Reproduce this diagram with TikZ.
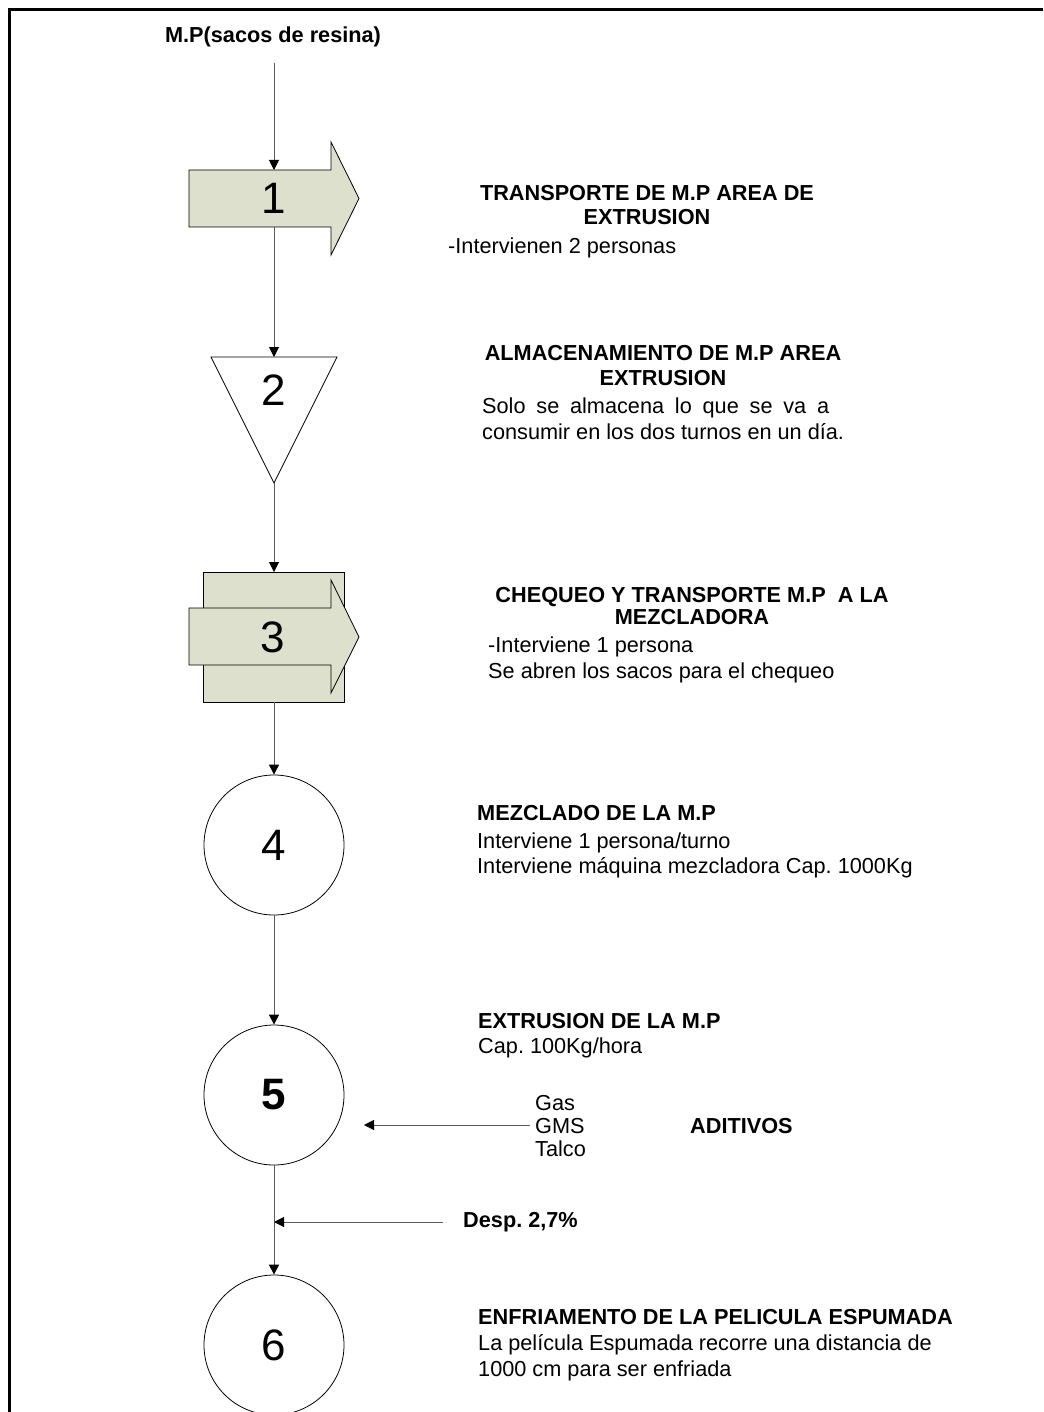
\documentclass[tikz,border=0pt]{standalone}
\usepackage{fontspec}
\setmainfont{Liberation Sans}
\usetikzlibrary{arrows.meta}
\definecolor{opfill}{RGB}{221,224,204}
\definecolor{flowgray}{RGB}{90,90,90}
\frenchspacing

\begin{document}
\begin{tikzpicture}[x=1pt, y=-1pt,
    numtxt/.style = {inner sep=0pt, font=\fontsize{44}{50}\selectfont},
    headtxt/.style = {inner sep=0pt, anchor=base, font=\fontsize{21.7}{25}\selectfont\bfseries},
    bodytxt/.style = {inner sep=0pt, anchor=base west, font=\fontsize{21.7}{25}\selectfont},
    opcircle/.style = {circle, draw, line width=0.8pt, minimum size=140pt, inner sep=0pt, font=\fontsize{44}{50}\selectfont},
    opshape/.style = {draw=black, fill=opfill, line width=0.8pt},
    flow/.style = {draw=flowgray, line width=1pt, -{Triangle[width=10pt, length=10pt, color=black]}}
]
\useasboundingbox (0,0) rectangle (1043,1412);

% page frame
\draw[line width=2.5pt] (1043,9.5) -- (9.5,9.5) -- (9.5,1412);

% shapes of the chart
\draw[opshape] (189,170) -- (331,170) -- (331,142) -- (359,198.5) -- (331,255) -- (331,227) -- (189,227) -- cycle;
\draw[line width=0.8pt] (211,357) -- (337,357) -- (274,483) -- cycle;
\draw[opshape] (203,572) rectangle (344,702);
\draw[opshape] (189,608) -- (331,608) -- (331,580) -- (359,637) -- (331,693) -- (331,665) -- (189,665) -- cycle;

\node (n1) [numtxt] at (274,198) {1};
\node (n2) [numtxt] at (274,390) {2};
\node (n3) [numtxt] at (273,637) {3};
\node (op4) [opcircle] at (274,845) {4};
\node (op5) [opcircle, font=\fontsize{44}{50}\selectfont\bfseries] at (274,1095) {5};
\node (op6) [opcircle] at (274,1345) {6};

\coordinate (src) at (274,63);
\coordinate (op1top) at (274,170);
\coordinate (op1bot) at (274,227);
\coordinate (op2top) at (274,357);
\coordinate (op2bot) at (274,483);
\coordinate (op3top) at (274,572);
\coordinate (op3bot) at (274,702);
\coordinate (addtail) at (530,1125);
\coordinate (addtip) at (364,1125);
\coordinate (desptail) at (443,1222);
\coordinate (despjoin) at (274,1222);

% texts
\node (srclbl) [headtxt] at (273,43) {M.P(sacos de resina)};

\node (t1a) [headtxt] at (647,201) {TRANSPORTE DE M.P AREA DE};
\node (t1b) [headtxt] at (647,225) {EXTRUSION};
\node (t1c) [bodytxt] at (448,254) {-Intervienen 2 personas};

\node (t2a) [headtxt] at (663,360) {ALMACENAMIENTO DE M.P AREA};
\node (t2b) [headtxt] at (663,385) {EXTRUSION};
\node (t2c) [bodytxt] at (482,413) {\makebox[347pt][s]{Solo se almacena lo que se va a}};
\node (t2d) [bodytxt] at (482,439) {consumir en los dos turnos en un día.};

\node (t3a) [headtxt] at (692,602) {CHEQUEO Y TRANSPORTE M.P\ \ A LA};
\node (t3b) [headtxt] at (692,624) {MEZCLADORA};
\node (t3c) [bodytxt] at (488,652) {-Interviene 1 persona};
\node (t3d) [bodytxt] at (488,678) {Se abren los sacos para el chequeo};

\node (t4a) [headtxt, anchor=base west] at (477,820) {MEZCLADO DE LA M.P};
\node (t4b) [bodytxt] at (477,848) {Interviene 1 persona/turno};
\node (t4c) [bodytxt] at (477,873) {Interviene máquina mezcladora Cap. 1000Kg};

\node (t5a) [headtxt, anchor=base west] at (478,1028) {EXTRUSION DE LA M.P};
\node (t5b) [bodytxt] at (478,1053) {Cap. 100Kg/hora};

\node (gas) [bodytxt] at (535,1110) {Gas};
\node (gms) [bodytxt] at (535,1133) {GMS};
\node (talco) [bodytxt] at (535,1156) {Talco};
\node (aditivos) [headtxt, anchor=base west] at (690,1133) {ADITIVOS};

\node (desp) [headtxt, anchor=base west] at (463,1227) {Desp. 2,7\%};

\node (t6a) [headtxt, anchor=base west] at (478,1324) {ENFRIAMENTO DE LA PELICULA ESPUMADA};
\node (t6b) [bodytxt] at (478,1350) {La película Espumada recorre una distancia de};
\node (t6c) [bodytxt] at (478,1376) {1000 cm para ser enfriada};

% connectors
\draw [flow] (src) -- (op1top);
\draw [flow] (op1bot) -- (op2top);
\draw [flow] (op2bot) -- (op3top);
\draw [flow] (op3bot) -- (op4.north);
\draw [flow] (op4.south) -- (op5.north);
\draw [flow] (op5.south) -- (op6.north);
\draw [flow] (addtail) -- (addtip);
\draw [flow] (desptail) -- (despjoin);

\end{tikzpicture}
\end{document}
